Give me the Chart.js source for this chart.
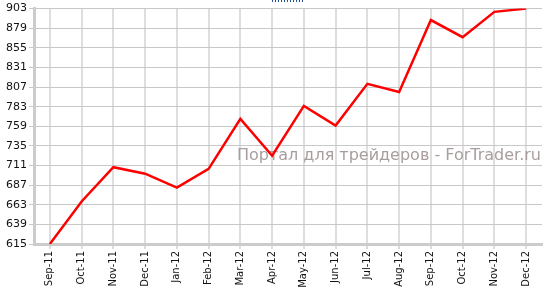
<!DOCTYPE html>
<html>
<head>
<meta charset="utf-8">
<script src="https://cdn.jsdelivr.net/npm/chart.js@4"></script>
<style>
  html, body { margin: 0; padding: 0; background: #fff; }
  #wrap { width: 550px; height: 289px; position: relative; }
</style>
</head>
<body>
<div id="wrap"><canvas id="lineChart"></canvas></div>
<script>
// Monthly values, Sep-11 .. Dec-12
const months = ['Sep-11', 'Oct-11', 'Nov-11', 'Dec-11', 'Jan-12', 'Feb-12', 'Mar-12', 'Apr-12',
                'May-12', 'Jun-12', 'Jul-12', 'Aug-12', 'Sep-12', 'Oct-12', 'Nov-12', 'Dec-12'];
const values = [615, 667, 709, 701, 684, 707, 768, 723, 784, 760, 811, 801, 889, 868, 899, 903];
const yMin = 615;
const yMax = 903;
const yStep = 24;
const watermark = 'Портал для трейдеров - ForTrader.ru';

// watermark text + tiny dotted mark at top
const decorPlugin = {
    id: 'decor',
    beforeDatasetsDraw(chart) {
        const ctx = chart.ctx;
        ctx.save();
        ctx.font = '16px "DejaVu Sans", Verdana, sans-serif';
        ctx.fillStyle = '#a89e9e';
        ctx.textAlign = 'right';
        ctx.textBaseline = 'alphabetic';
        ctx.fillText(watermark, 541, 160);
        ctx.restore();
    },
    afterDraw(chart) {
        const ctx = chart.ctx;
        ctx.save();
        ctx.fillStyle = '#1f4e8c';
        for (let x = 272; x <= 303; x += 3) ctx.fillRect(x, 0, 1, 2);
        ctx.restore();
    }
};

new Chart(document.getElementById('lineChart').getContext('2d'), {
    type: 'line',
    data: {
        labels: months,
        datasets: [{
            data: values,
            borderColor: '#ff0000',
            borderWidth: 2.5,
            pointRadius: 0,
            tension: 0,
            fill: false
        }]
    },
    options: {
        responsive: true,
        maintainAspectRatio: false,
        animation: false,
        layout: { padding: { top: 6, right: 8, left: 0, bottom: 0 } },
        plugins: { legend: { display: false }, tooltip: { enabled: false } },
        scales: {
            x: {
                offset: true,
                afterFit(scale) { scale.height = 45; },
                grid: { color: '#dedede', lineWidth: 2, offset: false, drawTicks: true, tickLength: 5 },
                border: { color: '#cccccc', width: 3 },
                ticks: {
                    color: '#111',
                    font: { family: '"DejaVu Sans", Verdana, sans-serif', size: 10 },
                    minRotation: 90,
                    maxRotation: 90,
                    autoSkip: false,
                    padding: 2
                }
            },
            y: {
                min: yMin,
                max: yMax,
                afterFit(scale) { scale.width = 34; },
                grid: { color: '#c8c8c8', lineWidth: 1, tickLength: 5 },
                border: { color: '#cccccc', width: 3 },
                ticks: {
                    stepSize: yStep,
                    color: '#111',
                    font: { family: '"DejaVu Sans", Verdana, sans-serif', size: 11 },
                    padding: 2
                }
            }
        }
    },
    plugins: [decorPlugin]
});
</script>
</body>
</html>
